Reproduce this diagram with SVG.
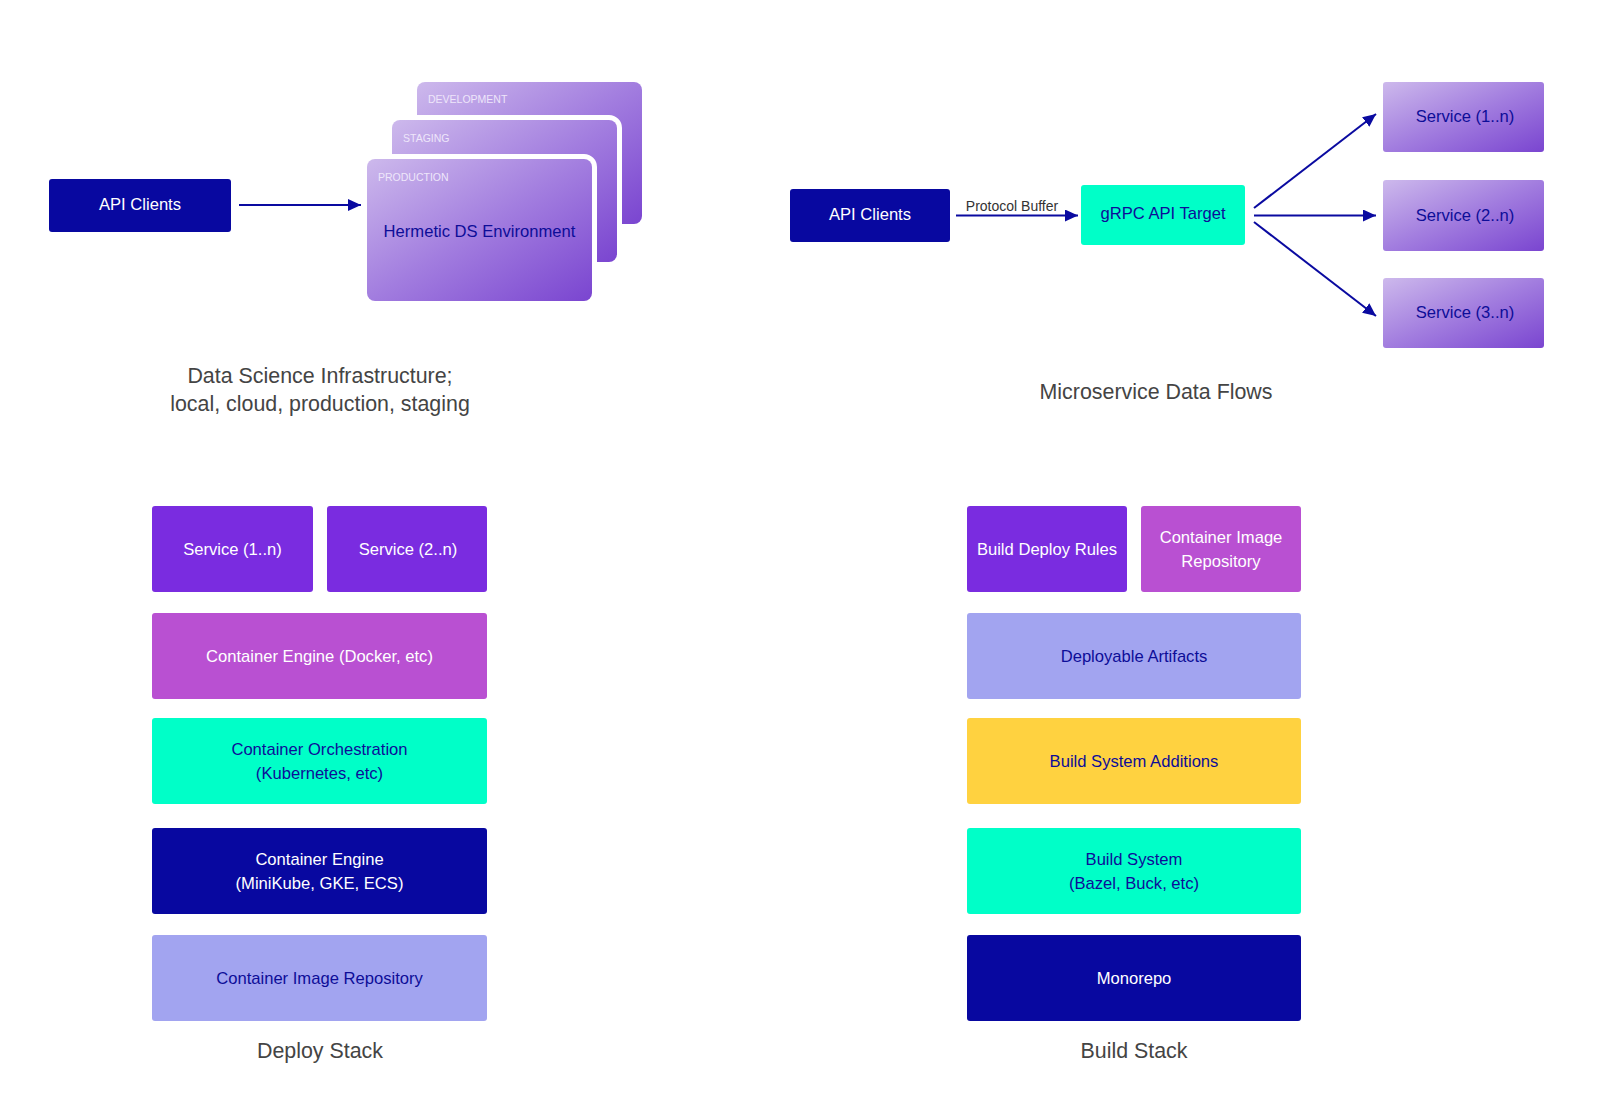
<svg xmlns="http://www.w3.org/2000/svg" width="1600" height="1102" viewBox="0 0 1600 1102">
<defs>
<linearGradient id="lav" x1="0" y1="0" x2="1" y2="1">
<stop offset="0" stop-color="#CDB9EC"/>
<stop offset="0.5" stop-color="#A27DDF"/>
<stop offset="1" stop-color="#7A45D0"/>
</linearGradient>
<marker id="ah" markerUnits="userSpaceOnUse" markerWidth="14" markerHeight="12" refX="13" refY="6" orient="auto">
<path d="M0,0 L13,6 L0,12 z" fill="#0A0AA0"/>
</marker>
<style>
text{font-family:"Liberation Sans",Arial,Helvetica,sans-serif}
.t{font-size:16.6px;text-anchor:middle}
.w{fill:#ffffff}
.b{fill:#0D0D98}
.cap{font-size:21.4px;fill:#444444;text-anchor:middle}
.env{font-size:10.5px;fill:#EEE6FA}
.navy{fill:#0808A0}
.teal{fill:#00FFC8}
.purp{fill:#7A2CE0}
.mag{fill:#B950D2}
.peri{fill:#A2A4F0}
.yel{fill:#FFD240}
.grad{fill:url(#lav)}
.edge{stroke:#0A0AA0;stroke-width:2;fill:none;marker-end:url(#ah)}
</style>
</defs>
<rect width="1600" height="1102" fill="#ffffff"/>

<!-- Data Science Infrastructure -->
<g id="ds-api-clients">
<rect class="navy" x="49" y="179" width="182" height="53" rx="3"/>
<text class="t w" x="140" y="210">API Clients</text>
</g>
<g id="env-development">
<rect class="grad" x="417" y="82" width="225" height="142" rx="8"/>
<text class="env" x="428" y="103">DEVELOPMENT</text>
</g>
<g id="env-staging">
<rect x="392" y="120" width="225" height="142" rx="8" fill="#ffffff" stroke="#ffffff" stroke-width="10"/>
<rect class="grad" x="392" y="120" width="225" height="142" rx="8"/>
<text class="env" x="403" y="141.5">STAGING</text>
</g>
<g id="env-production">
<rect x="367" y="159" width="225" height="142" rx="8" fill="#ffffff" stroke="#ffffff" stroke-width="10"/>
<rect class="grad" x="367" y="159" width="225" height="142" rx="8"/>
<text class="env" x="378" y="181">PRODUCTION</text>
<text class="t b" x="479.5" y="236.5">Hermetic DS Environment</text>
</g>
<g id="caption-ds">
<text class="cap" x="320" y="383">Data Science Infrastructure;</text>
<text class="cap" x="320" y="411">local, cloud, production, staging</text>
</g>

<!-- Microservice Data Flows -->
<g id="ms-api-clients">
<rect class="navy" x="790" y="189" width="160" height="53" rx="3"/>
<text class="t w" x="870" y="220">API Clients</text>
</g>
<g id="grpc-target">
<rect class="teal" x="1081" y="185" width="164" height="60" rx="3"/>
<text class="t b" x="1163" y="219">gRPC API Target</text>
</g>
<g id="ms-service-1">
<rect class="grad" x="1383" y="82" width="161" height="70" rx="3"/>
<text class="t b" x="1465" y="122">Service (1..n)</text>
</g>
<g id="ms-service-2">
<rect class="grad" x="1383" y="180" width="161" height="71" rx="3"/>
<text class="t b" x="1465" y="220.5">Service (2..n)</text>
</g>
<g id="ms-service-3">
<rect class="grad" x="1383" y="278" width="161" height="70" rx="3"/>
<text class="t b" x="1465" y="318">Service (3..n)</text>
</g>
<g id="caption-ms">
<text class="cap" x="1156" y="399">Microservice Data Flows</text>
</g>

<!-- Connectors -->
<g id="connectors">
<line class="edge" x1="239" y1="205" x2="361" y2="205"/>
<line class="edge" x1="956" y1="215.5" x2="1078" y2="215.5"/>
<text x="1012" y="211" font-size="14" fill="#333333" text-anchor="middle">Protocol Buffer</text>
<line class="edge" x1="1254" y1="208" x2="1376" y2="114"/>
<line class="edge" x1="1254" y1="215.5" x2="1376" y2="215.5"/>
<line class="edge" x1="1254" y1="222" x2="1376" y2="316"/>
</g>

<!-- Deploy Stack -->
<g id="dep-service-1">
<rect class="purp" x="152" y="506" width="161" height="86" rx="3"/>
<text class="t w" x="232.5" y="555">Service (1..n)</text>
</g>
<g id="dep-service-2">
<rect class="purp" x="327" y="506" width="160" height="86" rx="3"/>
<text class="t w" x="408" y="555">Service (2..n)</text>
</g>
<g id="dep-container-engine-docker">
<rect class="mag" x="152" y="613" width="335" height="86" rx="3"/>
<text class="t w" x="319.5" y="662">Container Engine (Docker, etc)</text>
</g>
<g id="dep-orchestration">
<rect class="teal" x="152" y="718" width="335" height="86" rx="3"/>
<text class="t b" x="319.5" y="755">Container Orchestration</text>
<text class="t b" x="319.5" y="779">(Kubernetes, etc)</text>
</g>
<g id="dep-container-engine-cloud">
<rect class="navy" x="152" y="828" width="335" height="86" rx="3"/>
<text class="t w" x="319.5" y="865">Container Engine</text>
<text class="t w" x="319.5" y="889">(MiniKube, GKE, ECS)</text>
</g>
<g id="dep-image-repo">
<rect class="peri" x="152" y="935" width="335" height="86" rx="3"/>
<text class="t b" x="319.5" y="984">Container Image Repository</text>
</g>
<g id="caption-deploy">
<text class="cap" x="320" y="1058">Deploy Stack</text>
</g>

<!-- Build Stack -->
<g id="bld-deploy-rules">
<rect class="purp" x="967" y="506" width="160" height="86" rx="3"/>
<text class="t w" x="1047" y="555">Build Deploy Rules</text>
</g>
<g id="bld-image-repo">
<rect class="mag" x="1141" y="506" width="160" height="86" rx="3"/>
<text class="t w" x="1221" y="543">Container Image</text>
<text class="t w" x="1221" y="567">Repository</text>
</g>
<g id="bld-artifacts">
<rect class="peri" x="967" y="613" width="334" height="86" rx="3"/>
<text class="t b" x="1134" y="662">Deployable Artifacts</text>
</g>
<g id="bld-additions">
<rect class="yel" x="967" y="718" width="334" height="86" rx="3"/>
<text class="t b" x="1134" y="767">Build System Additions</text>
</g>
<g id="bld-system">
<rect class="teal" x="967" y="828" width="334" height="86" rx="3"/>
<text class="t b" x="1134" y="865">Build System</text>
<text class="t b" x="1134" y="889">(Bazel, Buck, etc)</text>
</g>
<g id="bld-monorepo">
<rect class="navy" x="967" y="935" width="334" height="86" rx="3"/>
<text class="t w" x="1134" y="984">Monorepo</text>
</g>
<g id="caption-build">
<text class="cap" x="1134" y="1058">Build Stack</text>
</g>
</svg>
